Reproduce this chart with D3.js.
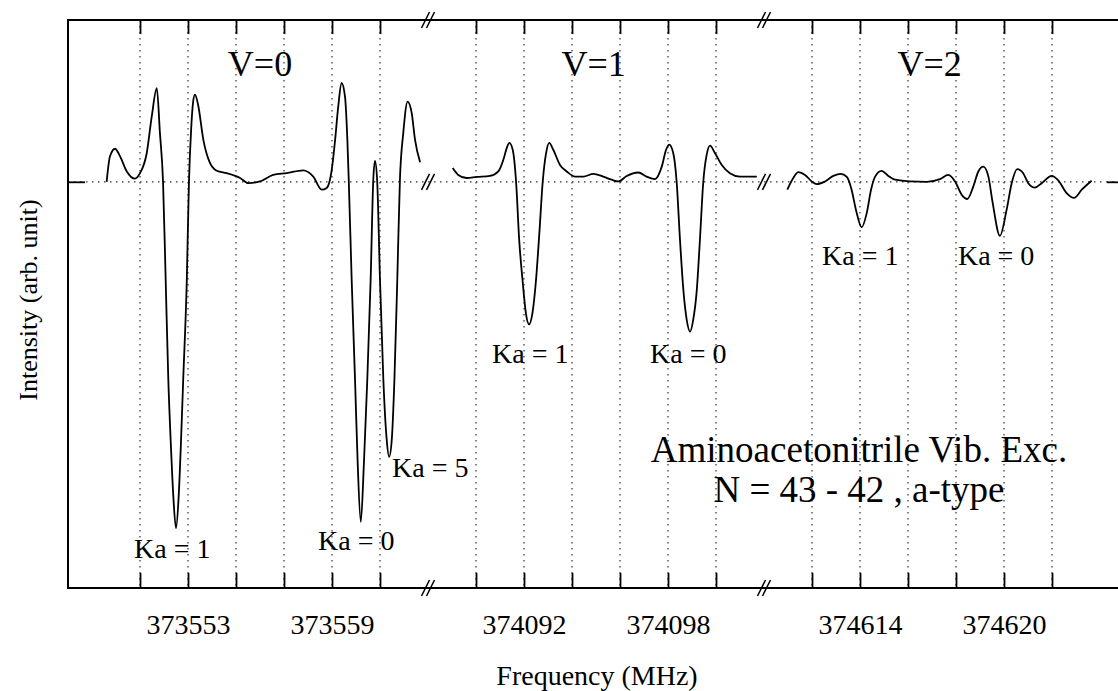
<!DOCTYPE html>
<html>
<head>
<meta charset="utf-8">
<script src="https://cdn.jsdelivr.net/npm/d3@7"></script>
<style>
  body { margin: 0; background: #fff; }
  text { font-family: "Liberation Serif", "Times New Roman", serif; fill: #000; }
</style>
</head>
<body>
<script>
// ---- data (frequency in MHz, intensity in arb. units) ----
var freqV0 = [373549.61, 373549.75, 373549.96, 373550.17, 373550.45, 373550.79, 373551.00, 373551.28, 373551.49, 373551.70,
  373551.83, 373551.96, 373552.07, 373552.18, 373552.29, 373552.39, 373552.50, 373552.61, 373552.70, 373552.80,
  373552.95, 373553.04, 373553.13, 373553.21, 373553.29, 373553.42, 373553.64, 373553.92, 373554.20, 373554.61,
  373555.17, 373555.51, 373556.00, 373556.55, 373557.11, 373557.80, 373558.22, 373558.57, 373558.78, 373558.99,
  373559.13, 373559.26, 373559.40, 373559.54, 373559.64, 373559.70, 373559.82, 373559.96, 373560.07, 373560.20,
  373560.33, 373560.47, 373560.61, 373560.72, 373560.79, 373560.88, 373561.00, 373561.14, 373561.28, 373561.38,
  373561.49, 373561.60, 373561.72, 373561.83, 373561.97, 373562.15, 373562.32, 373562.46, 373562.67];
var intV0 = [0, 7.4, 9.6, 7.4, 3.0, 0.9, 2.5, 8.3, 19.0, 27.2,
  14.2, 0, -28.5, -57.6, -77.0, -91.6, -100.6, -91.6, -77.0, -57.6,
  -28.5, 0, 15.1, 23.0, 25.3, 22.4, 12.2, 5.4, 3.2, 2.5,
  1.1, -0.4, 0.1, 2.0, 2.5, 3.3, 1.5, -2.3, -1.8, 3.5,
  12.2, 21.9, 28.7, 24.8, 12.2, 0, -28.5, -57.6, -81.7, -98.8,
  -81.7, -57.6, -28.5, 0.6, 6.1, 0.6, -28.5, -57.6, -75.0, -79.9,
  -75.0, -57.6, -28.5, 0.6, 14.2, 23.3, 20.0, 12.2, 5.7];

var freqV1 = [374089.03, 374089.26, 374089.61, 374090.03, 374090.58, 374090.93, 374091.14, 374091.28, 374091.39, 374091.53,
  374091.67, 374091.80, 374091.95, 374092.08, 374092.21, 374092.35, 374092.49, 374092.64, 374092.78, 374092.92,
  374093.05, 374093.22, 374093.50, 374093.78, 374094.13, 374094.47, 374094.89, 374095.30, 374095.65, 374095.93,
  374096.28, 374096.76, 374097.11, 374097.46, 374097.74, 374097.92, 374098.05, 374098.22, 374098.36, 374098.50,
  374098.64, 374098.78, 374098.92, 374099.05, 374099.20, 374099.33, 374099.47, 374099.61, 374099.75, 374099.96,
  374100.24, 374100.58, 374101.00, 374101.70];
var intV1 = [4.0, 2.0, 1.1, 1.4, 1.7, 3.0, 6.4, 9.8, 11.3, 9.3,
  0, -16.9, -29.4, -38.2, -41.4, -38.2, -29.4, -14.9, 0, 8.3,
  11.3, 9.3, 4.9, 3.0, 1.5, 1.5, 2.3, 1.5, 0.6, 0.1,
  1.7, 2.7, 1.5, 0.8, 4.4, 9.3, 10.8, 8.3, 0, -16.9,
  -31.4, -40.1, -43.5, -40.1, -31.4, -16.9, 0, 7.8, 10.5, 8.3,
  4.9, 2.5, 1.5, 1.5];

var freqV2 = [374610.97, 374611.22, 374611.43, 374611.71, 374611.99, 374612.20, 374612.54, 374612.89, 374613.20, 374613.45,
  374613.65, 374613.83, 374614.07, 374614.28, 374614.46, 374614.63, 374614.90, 374615.18, 374615.46, 374616.08,
  374616.78, 374617.33, 374617.68, 374617.96, 374618.24, 374618.47, 374618.72, 374618.93, 374619.14, 374619.35,
  374619.53, 374619.83, 374620.11, 374620.32, 374620.55, 374620.80, 374621.01, 374621.29, 374621.57, 374621.99,
  374622.26, 374622.61, 374622.92, 374623.24, 374623.65];
var intV2 = [-2.3, 1.1, 2.8, 2.0, 0.1, -0.7, 0.1, 1.7, 2.3, 1.4,
  -2.3, -8.1, -13.2, -9.1, -2.3, 1.5, 3.2, 1.7, 0.6, 0.1,
  0, 0.8, 2.0, 0.1, -3.8, -5.0, -1.4, 3.0, 4.4, 1.5,
  -6.2, -15.7, -8.1, -0.4, 3.7, 2.5, -0.4, -1.7, -0.4, 1.7,
  0.4, -3.3, -4.7, -2.3, 0.3];

// axis ticks and labelled ticks per segment
var ticksV0 = [373551, 373553, 373555, 373557, 373559, 373561];
var ticksV1 = [374090, 374092, 374094, 374096, 374098, 374100];
var ticksV2 = [374612, 374614, 374616, 374618, 374620, 374622];
var labelsV0 = [373553, 373559];
var labelsV1 = [374092, 374098];
var labelsV2 = [374614, 374620];

// Ka annotations: [segment, frequency, intensity, text]
var kaNotes = [
  [0, 373550.75, -109.3, "Ka = 1"],
  [0, 373558.42, -107.0, "Ka = 0"],
  [0, 373561.50, -85.8, "Ka = 5"],
  [1, 374090.67, -52.6, "Ka = 1"],
  [1, 374097.25, -52.6, "Ka = 0"],
  [2, 374612.42, -24.1, "Ka = 1"],
  [2, 374618.08, -24.1, "Ka = 0"]
];

var width = 1118, height = 691;
var plotLeft = 68, plotTop = 20, plotBottom = 588, plotRight = 1124;

var svg = d3.select("body").append("svg")
    .attr("width", width)
    .attr("height", height);

var y = d3.scaleLinear().domain([-118, 47]).range([plotBottom, plotTop]);

var segs = [
  {name: "V=0", mid: 373556, x: d3.scaleLinear().domain([373548, 373563]).range([68, 428]), f: freqV0, v: intV0, ticks: ticksV0, labels: labelsV0},
  {name: "V=1", mid: 374094.9, x: d3.scaleLinear().domain([374088, 374102]).range([428, 764]), f: freqV1, v: intV1, ticks: ticksV1, labels: labelsV1},
  {name: "V=2", mid: 374616.9, x: d3.scaleLinear().domain([374610, 374625]).range([764, 1124]), f: freqV2, v: intV2, ticks: ticksV2, labels: labelsV2}
];

// dotted grid
segs.forEach(function(s) {
  svg.selectAll(null)
    .data(s.ticks)
    .enter().append("line")
    .attr("x1", function(d) { return s.x(d); })
    .attr("x2", function(d) { return s.x(d); })
    .attr("y1", plotTop)
    .attr("y2", plotBottom)
    .attr("stroke", "#333")
    .attr("stroke-width", 1.2)
    .attr("stroke-dasharray", "1.5,4.5");
});
svg.append("line")
  .attr("x1", plotLeft).attr("x2", plotRight)
  .attr("y1", y(0)).attr("y2", y(0))
  .attr("stroke", "#333")
  .attr("stroke-width", 1.2)
  .attr("stroke-dasharray", "1.5,4.5");

// axes per segment
segs.forEach(function(s) {
  var gb = svg.append("g")
    .attr("transform", "translate(0," + plotBottom + ")")
    .call(d3.axisBottom(s.x)
      .tickValues(s.ticks)
      .tickSizeInner(-15)
      .tickSizeOuter(0)
      .tickPadding(26)
      .tickFormat(function(d) { return s.labels.indexOf(d) >= 0 ? d : ""; }));
  gb.select(".domain").remove();
  gb.attr("font-family", null).attr("font-size", 28);
  gb.selectAll("line").attr("stroke-width", 1.8);

  var gt = svg.append("g")
    .attr("transform", "translate(0," + plotTop + ")")
    .call(d3.axisTop(s.x).tickValues(s.ticks).tickSizeInner(-14).tickSizeOuter(0).tickFormat(""));
  gt.select(".domain").remove();
  gt.selectAll("line").attr("stroke-width", 1.8);
});

// left / right zero tick
var gl = svg.append("g")
  .attr("transform", "translate(" + plotLeft + ",0)")
  .call(d3.axisLeft(y).tickValues([0]).tickSizeInner(-17).tickSizeOuter(0).tickFormat(""));
gl.select(".domain").remove();
gl.selectAll("line").attr("stroke-width", 1.8);
var gr = svg.append("g")
  .attr("transform", "translate(" + plotRight + ",0)")
  .call(d3.axisRight(y).tickValues([0]).tickSizeInner(-17).tickSizeOuter(0).tickFormat(""));
gr.select(".domain").remove();
gr.selectAll("line").attr("stroke-width", 1.8);

// frame
svg.append("path")
  .attr("d", "M" + plotRight + "," + plotTop + "H" + plotLeft + "V" + plotBottom + "H" + plotRight + "V" + plotTop)
  .attr("fill", "none")
  .attr("stroke", "#000")
  .attr("stroke-width", 2);

// spectra
var line = d3.line().curve(d3.curveMonotoneX);
segs.forEach(function(s) {
  var pts = s.f.map(function(f, i) { return [s.x(f), y(s.v[i])]; });
  svg.append("path")
    .attr("d", line(pts))
    .attr("fill", "none")
    .attr("stroke", "#000")
    .attr("stroke-width", 1.8)
    .attr("stroke-linejoin", "round");

  svg.append("text")
    .attr("x", s.x(s.mid))
    .attr("y", 76)
    .attr("text-anchor", "middle")
    .attr("font-size", 36)
    .text(s.name);
});

// break marks
[428, 764].forEach(function(bx) {
  [plotTop, y(0), plotBottom].forEach(function(by) {
    [-2.5, 2.5].forEach(function(dx) {
      svg.append("line")
        .attr("x1", bx + dx - 4).attr("y1", by + 8)
        .attr("x2", bx + dx + 4).attr("y2", by - 8)
        .attr("stroke", "#000")
        .attr("stroke-width", 1.5);
    });
  });
});

// Ka labels
svg.selectAll(".ka")
  .data(kaNotes)
  .enter().append("text")
  .attr("class", "ka")
  .attr("x", function(d) { return segs[d[0]].x(d[1]); })
  .attr("y", function(d) { return y(d[2]); })
  .attr("font-size", 28)
  .text(function(d) { return d[3]; });

// title block
svg.append("text")
  .attr("x", 859).attr("y", 462)
  .attr("text-anchor", "middle")
  .attr("font-size", 37)
  .text("Aminoacetonitrile Vib. Exc.");
svg.append("text")
  .attr("x", 859).attr("y", 502)
  .attr("text-anchor", "middle")
  .attr("font-size", 37)
  .text("N = 43 - 42 , a-type");

// axis titles
svg.append("text")
  .attr("x", 597).attr("y", 685)
  .attr("text-anchor", "middle")
  .attr("font-size", 28)
  .text("Frequency (MHz)");
svg.append("text")
  .attr("transform", "translate(37,300) rotate(-90)")
  .attr("text-anchor", "middle")
  .attr("font-size", 26)
  .text("Intensity (arb. unit)");
</script>
</body>
</html>
